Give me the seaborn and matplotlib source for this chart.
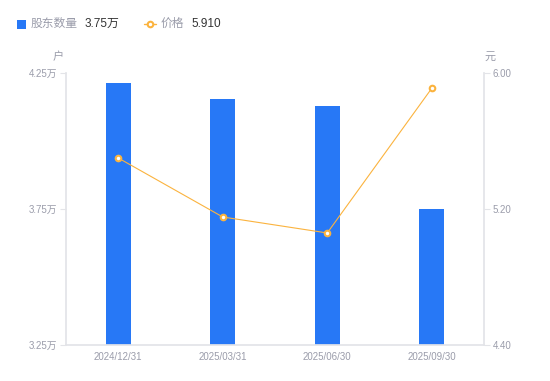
import matplotlib
matplotlib.use("Agg")
import matplotlib.pyplot as plt
import seaborn as sns
import pandas as pd
from matplotlib.patches import Rectangle
from matplotlib.lines import Line2D

dates = ["2024/12/31", "2025/03/31", "2025/06/30", "2025/09/30"]
holders = [4.213, 4.154, 4.129, 3.75]   # 万户
price = [5.50, 5.153, 5.059, 5.91]      # 元
left_ticks = [3.25, 3.75, 4.25]
left_labels = ["3.25万", "3.75万", "4.25万"]
right_ticks = [4.40, 5.20, 6.00]
right_labels = ["4.40", "5.20", "6.00"]

BLUE = "#2778f6"
ORANGE = "#fbb33e"
GRAY = "#9a9caa"
SPINE = "#e3e4e8"
DARK = "#333333"

sns.set_theme(style="white")
plt.rcParams['font.family'] = ['Liberation Sans', 'Noto Sans CJK SC', 'DejaVu Sans']

fig = plt.figure(figsize=(5.5, 3.81), dpi=100)
ax = fig.add_axes([66/550, 1-345/381, (484-66)/550, (345-73)/381])

df = pd.DataFrame({"date": dates, "holders": holders, "price": price})
sns.barplot(data=df, x="date", y="holders", color=BLUE, saturation=1,
            width=0.24, ax=ax, edgecolor="none")
ax.set_ylim(3.25, 4.25)
ax.set_yticks(left_ticks)
ax.set_yticklabels(left_labels)

ax2 = ax.twinx()
sns.pointplot(data=df, x="date", y="price", color=ORANGE, ax=ax2,
              markers="o", linestyles="-", linewidth=0.8, markersize=4,
              markerfacecolor="white", markeredgewidth=1.5, errorbar=None)
ax2.set_ylim(4.40, 6.00)
ax2.set_yticks(right_ticks)
ax2.set_yticklabels(right_labels)
ax.set_xlim(-0.5, 3.5)

for a in (ax, ax2):
    a.set_xlabel("")
    a.set_ylabel("")
    for s in a.spines.values():
        s.set_visible(False)
    a.grid(False)
ax.spines["left"].set_visible(True)
ax.spines["left"].set_color(SPINE)
ax.spines["bottom"].set_visible(True)
ax.spines["bottom"].set_color(SPINE)
ax2.spines["right"].set_visible(True)
ax2.spines["right"].set_color(SPINE)

ax.tick_params(axis="y", length=4, width=0.8, color=SPINE, labelsize=7, labelcolor=GRAY, pad=2, left=True)
ax.tick_params(axis="x", length=0, labelsize=7, labelcolor=GRAY, pad=5)
ax2.tick_params(axis="y", length=4, width=0.8, color=SPINE, labelsize=7, labelcolor=GRAY, pad=2, right=True)

fig.text(58/550, 1-57/381, "户", fontsize=8, color=GRAY, ha="center", va="center")
fig.text(490/550, 1-57/381, "元", fontsize=8, color=GRAY, ha="center", va="center")

# legend
ly = 1 - 24/381
fig.patches.append(Rectangle((17/550, 1-29/381), 9/550, 9/381, transform=fig.transFigure,
                             facecolor=BLUE, edgecolor="none"))
fig.text(31/550, ly, "股东数量", fontsize=8.5, color=GRAY, va="center")
fig.text(85/550, ly, "3.75万", fontsize=8.5, color=DARK, va="center")
fig.lines.append(Line2D([144/550, 156/550], [ly, ly], transform=fig.transFigure,
                        color=ORANGE, linewidth=1))
fig.lines.append(Line2D([150/550], [ly], transform=fig.transFigure, color=ORANGE,
                        marker="o", markersize=4, markerfacecolor="white", markeredgewidth=1.5))
fig.text(161/550, ly, "价格", fontsize=8.5, color=GRAY, va="center")
fig.text(191/550, ly, "5.910", fontsize=8.5, color=DARK, va="center")

fig.savefig("out.png", dpi=100)
